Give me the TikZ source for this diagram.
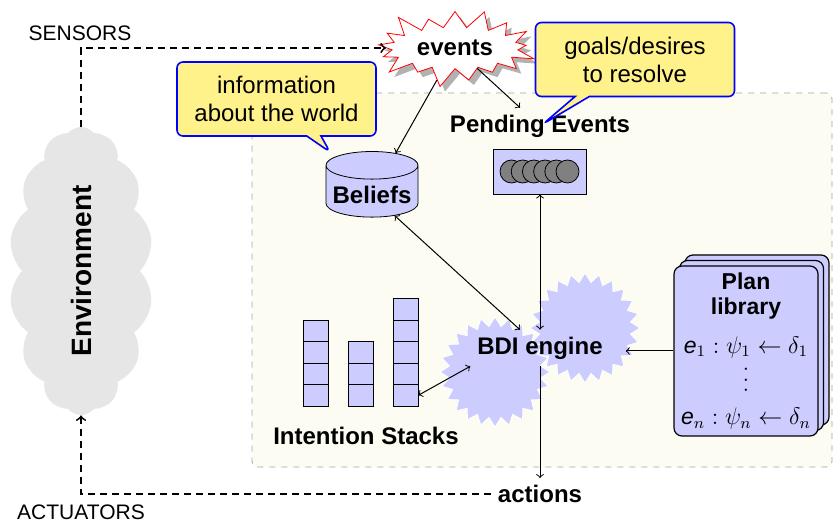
\documentclass[tikz,border=0pt]{standalone}
\usepackage{fontspec}
\setmainfont{Liberation Sans}
\usepackage{xcolor}
\usepackage{tikz}
\usetikzlibrary{shapes.geometric,shapes.symbols,shapes.callouts,shadows}
\definecolor{lavender}{HTML}{CCCCFF}
\definecolor{noteyellow}{HTML}{FFF28A}
\definecolor{agentbg}{HTML}{FCFCF2}
\definecolor{envgray}{HTML}{E6E6E6}

\tikzset{
    flow/.style={->, line width=0.5pt},
    flowboth/.style={<->, line width=0.5pt},
    sensing/.style={->, line width=0.9pt, dash pattern=on 3.5pt off 2.5pt},
    stackcell/.style={draw, fill=lavender, minimum width=12.5pt, minimum height=10.75pt, inner sep=0pt},
    note/.style={rectangle callout, fill=noteyellow, draw=blue, line width=0.8pt, rounded corners=3pt,
                 minimum width=99.5pt, minimum height=37pt, align=center, font=\fontsize{12}{14}\selectfont},
    title/.style={font=\fontsize{12}{14}\selectfont\bfseries},
    engine/.style={star, star points=24, star point ratio=1.2, fill=lavender, draw=white, minimum size=55pt},
}

\begin{document}
\begin{tikzpicture}[x=0.5pt, y=-0.5pt]
    \useasboundingbox (0,0) rectangle (833,522);

    % the agent
    \node[draw=gray!70, dashed, fill=agentbg, rounded corners=3pt,
          minimum width=290pt, minimum height=187pt] (agent) at (542,280) {};

    \node[cloud, cloud ignores aspect, cloud puffs=14, cloud puff arc=100, fill=envgray, inner sep=0pt,
          minimum width=72pt, minimum height=144pt] (env) at (81,271)
        {\rotatebox{90}{\fontsize{14}{16}\selectfont\bfseries Environment}};

    \node[starburst, starburst points=17, starburst point height=11pt, draw=red, fill=white,
          drop shadow={shadow xshift=2.5pt, shadow yshift=-2.5pt, fill=gray!60, opacity=1},
          minimum width=75pt, minimum height=42pt, title] (events) at (455,48) {events};

    \node[cylinder, shape border rotate=90, aspect=0.3, draw, fill=lavender,
          minimum width=46pt, minimum height=31.5pt, title] (beliefs) at (372,195) {Beliefs};

    \node[title] (pendlabel) at (540,126) {Pending Events};
    \node[draw, fill=lavender, minimum width=46.5pt, minimum height=22.5pt] (pending) at (540,171.5) {};
    \foreach \i in {0,...,5}
        \node[circle, draw, fill=gray, minimum size=11.5pt, inner sep=0pt] (ev\i) at (511.5+11.2*\i,171.5) {};

    \node[engine] (bdiback) at (585,328) {};
    \node[engine] (bdifront) at (495,372) {};
    \node[title] (bdi) at (540,348) {BDI engine};

    \foreach \x/\n [count=\c] in {315.5/4, 360.5/3, 405.5/5}
        \foreach \k in {1,...,\n}
            \node[stackcell] (s\c-\k) at (\x,{395.25-21.5*(\k-1)}) {};
    \node[title] (stacklabel) at (366,436) {Intention Stacks};

    \node[draw, fill=lavender, rounded corners=4pt, line width=0.6pt,
          double copy shadow={shadow xshift=2.75pt, shadow yshift=2.75pt},
          minimum width=72pt, minimum height=85pt, align=center,
          font=\fontsize{11.5}{12.5}\selectfont] (plan) at (746,351)
        {\textbf{Plan}\\\textbf{library}\\[7pt]
         \textit{e}$_1:\psi_1\leftarrow\delta_1$\\[3pt]
         \rotatebox{90}{$\ldots$}\\[3pt]
         \textit{e}$_n:\psi_n\leftarrow\delta_n$};

    \node[title] (actions) at (540,494) {actions};
    \node[font=\fontsize{10.5}{12}\selectfont] (sensors) at (80,33) {SENSORS};
    \node[font=\fontsize{10.5}{12}\selectfont] (actuators) at (81,512) {ACTUATORS};

    \draw[sensing] (env.north) |- (events);
    \draw[sensing] (actions) -| (env.south);

    \draw[flow] (events) -- (beliefs);
    \draw[flow] (events) -- (pendlabel);
    \draw[flowboth] (beliefs) -- (bdi);
    \draw[flowboth] (pending) -- (bdi);
    \draw[flowboth] (s3-1.east) -- (bdi.south west);
    \draw[flow, shorten >=8pt] (plan.west) -- (plan.west -| bdi.east);
    \draw[flow] (bdi) -- (actions);

    % notes
    \node[note, callout absolute pointer={(330,152)}] (infonote) at (276.5,99)
        {information\\about the world};
    \node[note, callout absolute pointer={(543,124)}] (goalnote) at (635,59.5)
        {goals/desires\\to resolve};
\end{tikzpicture}
\end{document}
